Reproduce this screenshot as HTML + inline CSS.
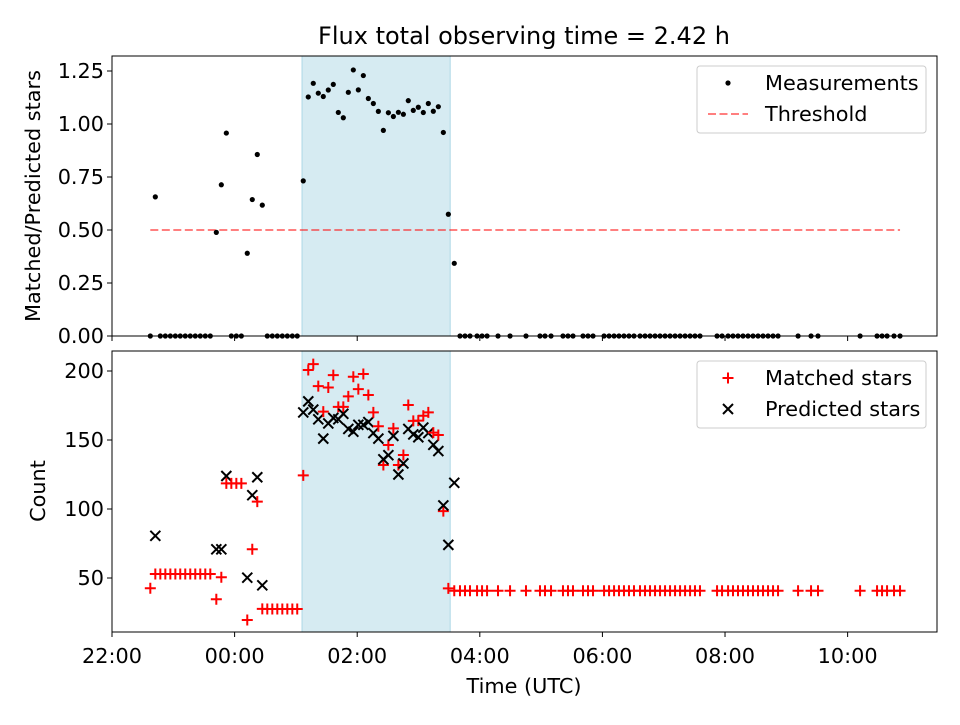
<!DOCTYPE html>
<html><head><meta charset="utf-8"><style>
body{margin:0;background:#fff}
svg text{font-family:"DejaVu Sans","Liberation Sans",sans-serif;fill:#000}
</style></head><body>
<svg id="chart" width="960" height="720" xmlns="http://www.w3.org/2000/svg">
<rect width="960" height="720" fill="#fff"/>
<text x="524" y="44" font-size="24" text-anchor="middle">Flux total observing time = 2.42 h</text>
<g id="gtop"></g><g id="gbot"></g>
</svg>
<script>
// minutes after 22:00 UTC
const times=[37.5,42.4,47.3,52.2,57.1,62.0,66.8,71.7,76.6,81.5,86.4,91.3,96.2,102.1,107.0,111.9,116.8,121.7,126.6,132.4,137.3,142.2,147.1,152.0,156.9,161.8,166.7,171.6,176.5,181.3,187.2,
192.1,197.0,201.9,206.8,211.7,216.6,221.5,226.4,231.3,236.2,241.1,246.0,250.9,255.8,260.7,265.6,270.5,275.4,280.3,285.2,290.0,294.9,299.8,304.7,309.6,314.5,319.4,324.3,329.2,335.0,
340.6,345.5,350.4,357.3,362.2,367.1,377.8,389.6,405.2,418.9,423.8,429.7,441.4,446.3,451.2,461.0,465.9,470.8,481.6,486.5,491.4,496.2,501.1,506.0,510.9,516.8,521.7,526.6,531.5,536.4,541.3,546.2,551.1,556.0,560.9,565.8,570.6,575.5,592.2,597.1,603.0,607.8,612.7,617.6,622.5,627.4,632.3,637.2,642.1,647.0,651.9,671.5,684.2,691.0,732.2,748.8,753.7,758.6,765.4,771.3];
const matched=[42.6,52.9,52.9,52.9,52.9,52.9,52.9,52.9,52.9,52.9,52.9,52.9,52.9,34.6,50.5,118.6,118.6,118.6,118.6,19.6,70.8,105.3,27.6,27.5,27.5,27.5,27.5,27.5,27.5,27.5,124.4,
200.7,205,189,170.6,188,197,174,174,181.6,195.8,186.9,197.8,182.6,170,160,131.9,146.4,158.4,131.9,139.1,175.4,163.9,164,167.6,170,155.3,153.6,98.5,42.5,40.8,
40.8,40.8,40.8,40.8,40.8,40.8,40.8,40.8,40.8,40.8,40.8,40.8,40.8,40.8,40.8,40.8,40.8,40.8,40.8,40.8,40.8,40.8,40.8,40.8,40.8,40.8,40.8,40.8,40.8,40.8,40.8,40.8,40.8,40.8,40.8,40.8,40.8,40.8,40.8,40.8,40.8,40.8,40.8,40.8,40.8,40.8,40.8,40.8,40.8,40.8,40.8,40.8,40.8,40.8,40.8,40.8,40.8,40.8,40.8,40.8];
const predicted=[0,80.6,0,0,0,0,0,0,0,0,0,0,0,70.8,70.8,123.9,0,0,0,50.2,110,123,44.7,0,0,0,0,0,0,0,170,
178,172,165,151,162,166,165,169,158,156,161,161,163,155,151,136,139,153,125,133,158,154,152,159,155,146.5,142,102.6,74,119];
const xTicks=[0,120,240,360,480,600,720];
const xTickLabels=["22:00","00:00","02:00","04:00","06:00","08:00","10:00"];
const topTicks=[0,0.25,0.5,0.75,1.0,1.25];
const botTicks=[50,100,150,200];
const windowSpan=[186,331];
const threshold=0.5;

const NS="http://www.w3.org/2000/svg";
const L=112,R=937;
const FS=20.8;
const X=m=>L+m*1.0217;
const TY=v=>336-v*212;
const BY=c=>578-(c-50)*207/150;
function mk(tag,attrs,parent){const e=document.createElementNS(NS,tag);for(const k in attrs)e.setAttribute(k,attrs[k]);parent.appendChild(e);return e;}
const gTop=document.getElementById('gtop'),gBot=document.getElementById('gbot');

function panel(g,y0,y1,ticks,Y,fmt,name){
  const s=mk('rect',{x:X(windowSpan[0]),y:y0,width:X(windowSpan[1])-X(windowSpan[0]),height:y1-y0,fill:'#add8e6','fill-opacity':0.5,stroke:'#add8e6'},g);
  
  
  ticks.forEach(v=>{
    mk('line',{x1:L-5,x2:L,y1:Y(v),y2:Y(v),stroke:'#000'},g);
    const t=mk('text',{x:L-8,y:Y(v)+7,'font-size':FS,'text-anchor':'end'},g);t.textContent=fmt(v);
    
    
  });
  xTicks.forEach(m=>mk('line',{x1:X(m),x2:X(m),y1:y1,y2:y1+5,stroke:'#000'},g));
}
panel(gTop,56,336,topTicks,TY,v=>v.toFixed(2),'top');
panel(gBot,351,632,botTicks,BY,v=>String(v),'bottom');

const th=mk('line',{x1:X(times[0]),x2:X(times[times.length-1]),y1:TY(threshold),y2:TY(threshold),stroke:'#ff0000','stroke-opacity':0.5,'stroke-width':2,'stroke-dasharray':'8,3.5'},gTop);



times.forEach((t,i)=>{
  const p=predicted[i]||0;
  const r=p>0?matched[i]/p:0;
  const d=mk('circle',{cx:X(t),cy:TY(r),r:2.6,fill:'#000'},gTop);
  
  
  const x=X(t),y=BY(matched[i]);
  const c=mk('path',{d:`M${x-5.5},${y}H${x+5.5}M${x},${y-5.5}V${y+5.5}`,stroke:'#ff0000','stroke-width':2},gBot);
  
  
  if(p>0){
    const py=BY(p);
    const k=mk('path',{d:`M${x-5},${py-5}L${x+5},${py+5}M${x-5},${py+5}L${x+5},${py-5}`,stroke:'#000','stroke-width':2},gBot);
    
    
  }
});
const f1=mk('rect',{x:L,y:56,width:R-L,height:280,fill:'none',stroke:'#000','stroke-width':1},gTop);


const f2=mk('rect',{x:L,y:351,width:R-L,height:281,fill:'none',stroke:'#000','stroke-width':1},gBot);


xTicks.forEach((m,i)=>{
  const t=mk('text',{x:X(m),y:663,'font-size':FS,'text-anchor':'middle'},gBot);t.textContent=xTickLabels[i];
  
  
});
let tt;
tt=mk('text',{x:524,y:693,'font-size':FS,'text-anchor':'middle'},gBot);tt.textContent='Time (UTC)';


tt=mk('text',{x:0,y:0,'font-size':FS,'text-anchor':'middle',transform:'translate(40,196) rotate(-90)'},gTop);tt.textContent='Matched/Predicted stars';


tt=mk('text',{x:0,y:0,'font-size':FS,'text-anchor':'middle',transform:'translate(45,491) rotate(-90)'},gBot);tt.textContent='Count';



function legend(g,y,items,name){
  const b=mk('rect',{x:697,y:y,width:229,height:67,rx:3,fill:'#fff','fill-opacity':0.8,stroke:'#ccc'},g);
  
  
  items.forEach((it,i)=>{
    const cy=y+17+i*31;
    it.draw(cy);
    const tx=mk('text',{x:765,y:cy+7,'font-size':FS},g);tx.textContent=it.label;
    
    
  });
}
legend(gTop,66,[
 {label:'Measurements',draw:cy=>mk('circle',{cx:728,cy:cy,r:2.6,fill:'#000'},gTop)},
 {label:'Threshold',draw:cy=>mk('line',{x1:708,x2:748,y1:cy,y2:cy,stroke:'#ff0000','stroke-opacity':0.5,'stroke-width':2,'stroke-dasharray':'8,3.5'},gTop)}
],'top-legend');
legend(gBot,361,[
 {label:'Matched stars',draw:cy=>mk('path',{d:`M722.5,${cy}H733.5M728,${cy-5.5}V${cy+5.5}`,stroke:'#ff0000','stroke-width':2},gBot)},
 {label:'Predicted stars',draw:cy=>mk('path',{d:`M723,${cy-5}L733,${cy+5}M723,${cy+5}L733,${cy-5}`,stroke:'#000','stroke-width':2},gBot)}
],'bottom-legend');
</script>
</body></html>
